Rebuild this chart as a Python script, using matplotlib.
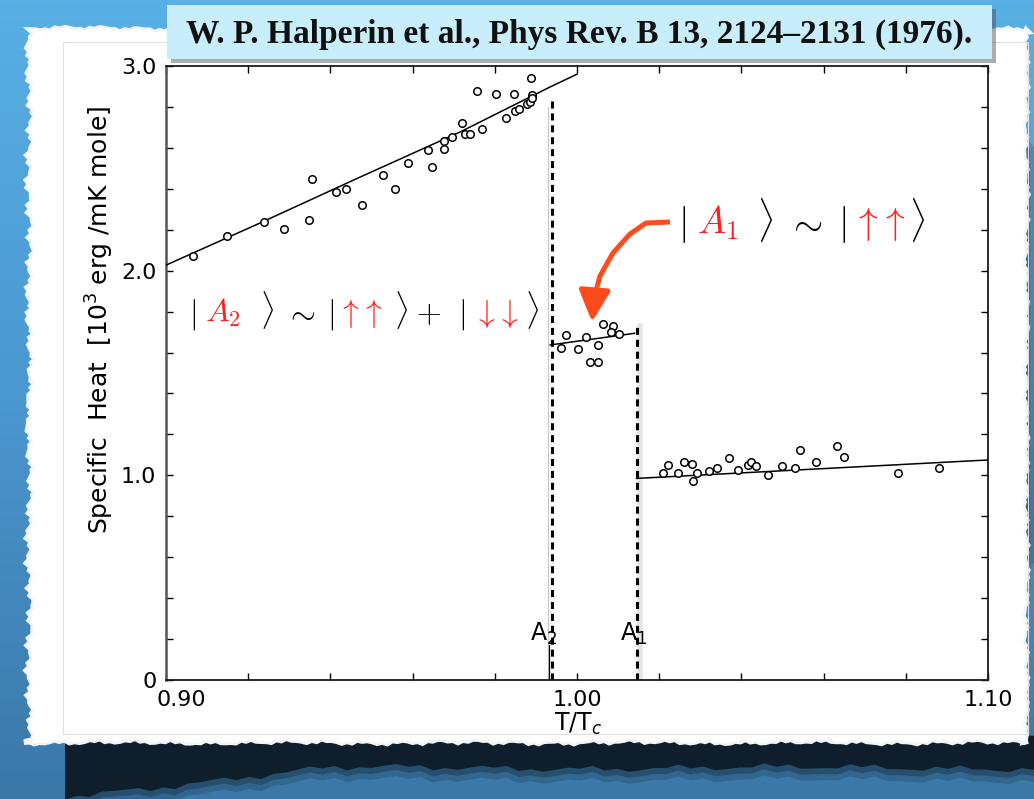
import numpy as np
import matplotlib.pyplot as plt
from matplotlib.patches import Polygon, Rectangle, FancyArrowPatch
from matplotlib.path import Path
from matplotlib.ticker import FixedLocator, MultipleLocator
from matplotlib.colors import LinearSegmentedColormap
from matplotlib.transforms import ScaledTranslation

# ---- data (T/Tc, specific heat in 10^3 erg/mK mole)
# A2 phase (below the A2 transition)
t_a2 = [0.9066, 0.9148, 0.9239, 0.9288, 0.9348, 0.9355, 0.9414, 0.9437, 0.9477,
        0.9527, 0.9557, 0.9588, 0.9637, 0.9646, 0.9677, 0.9677, 0.9696, 0.9719,
        0.9727, 0.9740, 0.9756, 0.9768, 0.9803, 0.9827, 0.9847, 0.9849, 0.9859,
        0.9878, 0.9886, 0.9890, 0.9891, 0.9887]
c_a2 = [2.071, 2.171, 2.237, 2.205, 2.248, 2.448, 2.383, 2.400, 2.320,
        2.467, 2.397, 2.527, 2.588, 2.508, 2.593, 2.635, 2.654, 2.720,
        2.667, 2.667, 2.879, 2.692, 2.864, 2.747, 2.861, 2.781, 2.789,
        2.812, 2.825, 2.859, 2.842, 2.939]

# A1 phase (between the two transitions)
t_a1 = [0.9973, 0.9961, 1.0002, 1.0022, 1.0052, 1.0031, 1.0050, 1.0063, 1.0088,
        1.0082, 1.0102]
c_a1 = [1.684, 1.623, 1.617, 1.677, 1.638, 1.555, 1.555, 1.739, 1.729,
        1.700, 1.689]

# normal phase
t_n = [1.0210, 1.0221, 1.0245, 1.0261, 1.0281, 1.0283, 1.0291, 1.0320, 1.0341,
       1.0371, 1.0392, 1.0415, 1.0423, 1.0435, 1.0465, 1.0500, 1.0531, 1.0543,
       1.0582, 1.0632, 1.0650, 1.0780, 1.0880]
c_n = [1.013, 1.050, 1.010, 1.066, 1.055, 0.974, 1.013, 1.022, 1.034,
       1.086, 1.024, 1.049, 1.063, 1.045, 1.001, 1.045, 1.037, 1.124,
       1.065, 1.143, 1.088, 1.010, 1.037]

# drawn fit curves
fit_a2_t = [0.900, 0.9229, 0.9472, 0.9715, 0.9934, 1.000]
fit_a2_c = [2.027, 2.233, 2.457, 2.677, 2.897, 2.960]
fit_a1_t = [0.9935, 1.0140]
fit_a1_c = [1.637, 1.694]
fit_n_t = [1.0145, 1.100]
fit_n_c = [0.985, 1.075]

# transitions
a2_temp, a2_top = 0.9938, 2.85
a1_temp, a1_top = 1.0147, 1.73

W, H = 1034, 799
fig = plt.figure(figsize=(W / 100, H / 100), dpi=100)

# ---- background, torn paper and shadow (pixel coordinates)
bg = fig.add_axes([0, 0, 1, 1], zorder=0)
bg.set_xlim(0, W)
bg.set_ylim(H, 0)
bg.axis('off')
cmap = LinearSegmentedColormap.from_list('bgblue', ['#58b0e5', '#4b97cf', '#3b78a8'])
bg.imshow(np.linspace(0, 1, 256).reshape(-1, 1), cmap=cmap, aspect='auto',
          extent=[0, W, H, 0], zorder=0)


def rough(n, amp, k):
    s = np.arange(n)
    return amp * (0.4 * np.sin(0.83 * s + k) + 0.35 * np.sin(2.7 * s + 2 * k)
                  + 0.25 * np.sin(6.1 * s + 3 * k))


# shadow below the paper
sx = np.linspace(65, W, 80)
sb = 768 + 28 * np.clip((330 - sx) / 260, 0, 1) + rough(80, 5, 1.0)
shadow = list(zip(sx, 736 + rough(80, 2, 0.3))) + list(zip(sx[::-1], sb[::-1]))
for grow, a in [(12, 0.2), (6, 0.3), (0, 0.92)]:
    pts = [(x, y + (grow if y > 750 else 0)) for x, y in shadow]
    bg.add_patch(Polygon(pts, closed=True, fc='#0d1a26', ec='none', alpha=a, zorder=1))
# shadow on the right side
for w_, a in [(16, 0.2), (10, 0.3), (5, 0.45)]:
    bg.add_patch(Polygon([(1020, 130), (1020 + w_, 150), (1020 + w_, 560), (1020, 580)],
                         closed=True, fc='#1c2a36', ec='none', alpha=a, zorder=1))

# paper
n = 200
top_x = np.linspace(35, 1028, n)
top = list(zip(top_x, 30 + rough(n, 3, 0.0)))
ry = np.linspace(30, 742, n)
right = list(zip(1025 + rough(n, 3, 1.3), ry))
bot_x = np.linspace(1028, 24, n)
bottom = list(zip(bot_x, 741 + rough(n, 3, 2.1)))
ly = np.linspace(742, 30, n)
left = list(zip(31 + rough(n, 5, 0.7), ly))
paper = top + right + bottom + left
bg.add_patch(Polygon(paper, closed=True, fc='#f7f8f9', ec='#f2f4f6', lw=4, zorder=2))
bg.add_patch(Polygon(paper, closed=True, fc='white', ec='none', zorder=3))
bg.add_patch(Rectangle((63, 42), 965, 692, fill=False, ec='#e0e0e0', lw=0.8, zorder=3))

# ---- the plot itself
ax = fig.add_axes([166 / W, 119 / H, 822 / W, 614 / H], zorder=5)
ax.patch.set_visible(False)
ax.set_xlim(0.90, 1.10)
ax.set_ylim(0, 3.0)

ax.plot(fit_a2_t, fit_a2_c, color='black', lw=1.1, zorder=3)
ax.plot(fit_a1_t, fit_a1_c, color='black', lw=1.1, zorder=3)
ax.plot(fit_n_t, fit_n_c, color='black', lw=1.1, zorder=3)
for t, c in [(t_a2, c_a2), (t_a1, c_a1), (t_n, c_n)]:
    ax.plot(t, c, 'o', mfc='white', mec='black', ms=5.4, mew=1.1, ls='none', zorder=4)

# transition lines (with the faint scan shadow next to them)
ax.plot([a2_temp - 0.0009] * 2, [0, a2_top - 0.05], color='#c8c8c8', lw=0.8, zorder=1)
ax.plot([a1_temp + 0.0006] * 2, [0, a1_top], color='#d4d4d4', lw=4, alpha=0.6, zorder=1)
ax.plot([a2_temp] * 2, [0, a2_top], color='black', lw=2.2, ls=(0, (2.3, 1.6)), zorder=2)
ax.plot([a1_temp] * 2, [0, a1_top], color='black', lw=2.2, ls=(0, (2.3, 1.6)), zorder=2)
ax.plot([a2_temp - 0.0006] * 2, [0, 0.17], color='black', lw=0.9, zorder=2)
ax.text(0.9920, 0.19, 'A$_2$', fontsize=17, ha='center', va='baseline')
ax.text(1.0139, 0.19, 'A$_1$', fontsize=17, ha='center', va='baseline')

ax.xaxis.set_major_locator(FixedLocator([0.90, 1.00, 1.10]))
ax.xaxis.set_minor_locator(MultipleLocator(0.02))
ax.yaxis.set_major_locator(FixedLocator([0, 1, 2, 3]))
ax.yaxis.set_minor_locator(MultipleLocator(0.2))
ax.set_xticklabels(['0.90', '1.00', '1.10'])
ax.set_yticklabels(['0', '1.0', '2.0', '3.0'])
ax.tick_params(which='both', direction='in', top=True, right=True,
               length=5, width=1, labelsize=16, pad=7)
first = ax.get_xticklabels()[0]
first.set_transform(first.get_transform() + ScaledTranslation(0.15, 0, fig.dpi_scale_trans))
for s in ax.spines.values():
    s.set_linewidth(1.3)
    s.set_color('#1a1a1a')
ax.spines['left'].set_color('#555555')
ax.spines['left'].set_linewidth(1.8)

# ---- overlay: labels, title, annotations
ov = fig.add_axes([0, 0, 1, 1], zorder=10)
ov.set_xlim(0, W)
ov.set_ylim(H, 0)
ov.axis('off')

ov.text(100, 320, 'Specific  Heat  [10$^3$ erg /mK mole]', rotation=90,
        ha='center', va='center', fontsize=18)
ov.text(578, 724, 'T/T$_c$', ha='center', va='center', fontsize=17)

# title box
ov.add_patch(Rectangle((171, 9), 825, 54, fc='#4a4a4a', ec='none', alpha=0.45))
ov.add_patch(Rectangle((167, 5), 825, 54, fc='#c8eefc', ec='none'))
ov.text(579, 34, 'W. P. Halperin et al., Phys Rev. B 13, 2124\u20132131 (1976).',
        ha='center', va='center', fontsize=24, fontweight='bold',
        family='Liberation Serif', color='#111111')

red = '#ff1f1f'
state_a2 = [(189, r'$|$', 'black'), (205, r'$A_2$', red), (260, r'$\rangle$', 'black'),
            (285, r'$\sim$', 'black'), (327, r'$|$', 'black'),
            (337, r'$\uparrow\!\uparrow$', red), (394, r'$\rangle$', 'black'),
            (416, r'$+$', 'black'), (458, r'$|$', 'black'),
            (473, r'$\downarrow\!\downarrow$', red), (525, r'$\rangle$', 'black')]
for x, s, col in state_a2:
    ov.text(x, 322, s, color=col, fontsize=23, ha='left', va='baseline',
            math_fontfamily='cm')

state_a1 = [(678, r'$|$', 'black'), (697, r'$A_1$', red), (757, r'$\rangle$', 'black'),
            (787, r'$\sim$', 'black'), (838, r'$|$', 'black'),
            (852, r'$\uparrow\!\uparrow$', red), (909, r'$\rangle$', 'black')]
for x, s, col in state_a1:
    ov.text(x, 234, s, color=col, fontsize=27, ha='left', va='baseline',
            math_fontfamily='cm')

arrow_path = Path([(670, 222), (646, 223), (630, 234), (613, 253), (600, 276),
                   (594, 298), (592, 322)])
ov.add_patch(FancyArrowPatch(path=arrow_path, arrowstyle='-|>,head_length=1.6,head_width=0.8',
                             mutation_scale=12, color='#ff4a1c', lw=3.6,
                             shrinkA=0, shrinkB=0, capstyle='butt', joinstyle='round'))

fig.savefig('out.png', dpi=100)
